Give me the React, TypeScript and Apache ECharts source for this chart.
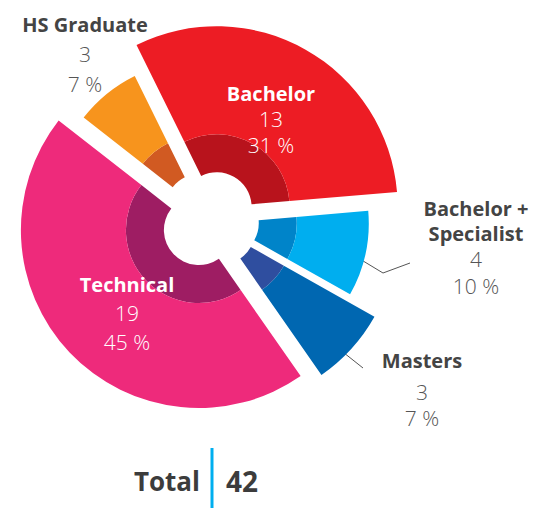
import React, { useEffect, useRef } from 'react';
import * as echarts from 'echarts';

// ---- data ----
const categories = ['HS Graduate', 'Bachelor', 'Bachelor +\nSpecialist', 'Masters', 'Technical'];
const values = [3, 13, 4, 3, 19];
const totalLabel = 'Total';

// ---- styles ----
const lightColors = ['#F7941D', '#ED1C24', '#00AEEF', '#0067B1', '#EE2A7B'];
const darkColors = ['#D15A22', '#B8131C', '#0084C9', '#2F4E9F', '#9E1D63'];
const outerRadii = [148, 181, 145, 177, 178];
const CENTER = [209.5, 220];
const EXPLODE = 14.6;
const START_ANGLE = 142;
const HOLE = 35;
const RING = 73;
const FONT = "'Open Sans', 'Noto Sans', sans-serif";

const labelStyles = [
  { x: 85, y: 54, inside: false, nameLH: 30, numLH: 30, line: null as null | number[][] },
  { x: 271, y: 119, inside: true, nameLH: 26, numLH: 26, line: null },
  { x: 476, y: 247.5, inside: false, nameLH: 25, numLH: 26.5, line: [[340, 247], [383, 273], [410, 263]] },
  { x: 422, y: 386, inside: false, nameLH: 38, numLH: 26, line: [[329, 341], [346, 354.5], [363, 368]] },
  { x: 127, y: 313, inside: true, nameLH: 29, numLH: 29, line: null },
];

export default function App() {
  const ref = useRef<HTMLDivElement>(null);
  useEffect(() => {
    if (!ref.current) return;
    const chart = echarts.init(ref.current, null, { renderer: 'svg' });
    const total = values.reduce((a, b) => a + b, 0);
    let cum = 0;
    const mids = values.map((v) => {
      const m = START_ANGLE - ((cum + v / 2) / total) * 360;
      cum += v;
      return m;
    });

    const series: any[] = [];
    values.forEach((_, i) => {
      const rad = (mids[i] * Math.PI) / 180;
      const center = [CENTER[0] + EXPLODE * Math.cos(rad), CENTER[1] - EXPLODE * Math.sin(rad)];
      const ls = labelStyles[i];
      const nameColor = ls.inside ? '#ffffff' : '#444444';
      const numColor = ls.inside ? '#ffffff' : '#555555';
      const makeData = (colors: string[], withLabel: boolean) =>
        categories.map((name, j) => ({
          name,
          value: values[j],
          itemStyle: { color: j === i ? colors[j] : 'rgba(0,0,0,0)' },
          label: { show: withLabel && j === i },
          labelLine: { show: withLabel && j === i && !!labelStyles[j].line },
        }));
      const base = {
        type: 'pie',
        center,
        startAngle: START_ANGLE,
        clockwise: true,
        silent: true,
        avoidLabelOverlap: false,
        emphasis: { disabled: true },
      };
      series.push({
        ...base,
        radius: [HOLE, RING],
        label: { show: false },
        labelLine: { show: false },
        data: makeData(darkColors, false),
      });
      series.push({
        ...base,
        radius: [RING, outerRadii[i]],
        label: {
          show: true,
          position: ls.inside ? 'inside' : 'outside',
          formatter: (p: any) => {
            const nm = String(p.name)
              .split('\n')
              .map((s) => `{b|${s}}`)
              .join('\n');
            const pct = Math.round((p.value / total) * 100);
            return `${nm}\n{n|${p.value}}\n{n|${pct} %}`;
          },
          rich: {
            b: { fontFamily: FONT, fontWeight: 'bold', fontSize: 20, color: nameColor, lineHeight: ls.nameLH },
            n: { fontFamily: FONT, fontWeight: 300, fontSize: 21, color: numColor, lineHeight: ls.numLH },
          },
        },
        labelLine: { show: false, lineStyle: { color: '#555555', width: 1 } },
        labelLayout: (params: any) =>
          params.dataIndex === i
            ? {
                x: ls.x,
                y: ls.y,
                align: 'center',
                verticalAlign: 'middle',
                ...(ls.line ? { labelLinePoints: ls.line } : {}),
              }
            : {},
        data: makeData(lightColors, true),
      });
    });

    chart.setOption({
      animation: false,
      series,
      graphic: [
        {
          type: 'text',
          x: 200,
          y: 481,
          style: {
            text: totalLabel,
            align: 'right',
            verticalAlign: 'middle',
            fontFamily: FONT,
            fontWeight: 'bold',
            fontSize: 26,
            fill: '#3c3c3c',
          },
        },
        {
          type: 'line',
          shape: { x1: 212, y1: 448, x2: 212, y2: 508 },
          style: { stroke: '#00AEEF', lineWidth: 3 },
        },
        {
          type: 'text',
          x: 226,
          y: 481,
          style: {
            text: String(total),
            align: 'left',
            verticalAlign: 'middle',
            fontFamily: FONT,
            fontWeight: 'bold',
            fontSize: 28,
            fill: '#3c3c3c',
          },
        },
      ],
    });
    return () => chart.dispose();
  }, []);
  return <div ref={ref} style={{ position: 'absolute', left: 0, top: 0, width: 537, height: 508 }} />;
}
